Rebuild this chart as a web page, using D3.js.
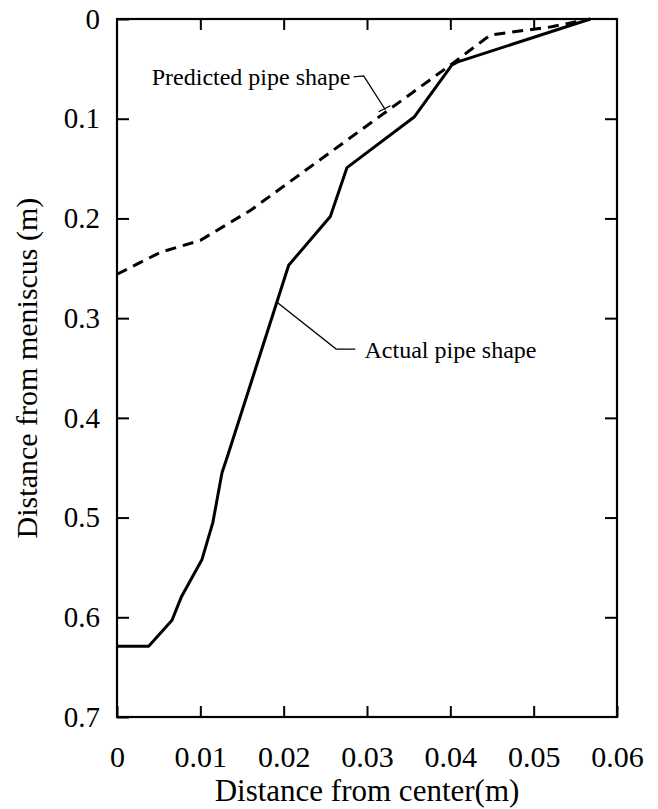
<!DOCTYPE html>
<html lang="en">
  <head>
    <meta charset="UTF-8" />
    <title>pipe shape</title>
    <script src="https://d3js.org/d3.v7.min.js"></script>
    <style>
      body { margin: 0; background: #fff; }
      svg text { font-family: "Liberation Serif", "Times New Roman", serif; fill: #000; }
      .axis path { display: none; }
      .axis line { stroke: #000; stroke-width: 2; }
      .frame { fill: none; stroke: #000; stroke-width: 2.2; }
      .actual { fill: none; stroke: #000; stroke-width: 3; stroke-linejoin: round; }
      .predicted { fill: none; stroke: #000; stroke-width: 3; stroke-dasharray: 11,7; }
      .leader { fill: none; stroke: #000; stroke-width: 1.3; }
    </style>
  </head>
  <body></body>
  <script type="text/javascript">
    var width = 658,
      height = 809;
    var margin = { top: 19, right: 41, bottom: 92, left: 117 };

    // tick values and labels
    var xTicks = [0, 0.01, 0.02, 0.03, 0.04, 0.05, 0.06];
    var xTickLabels = ['0', '0.01', '0.02', '0.03', '0.04', '0.05', '0.06'];
    var yTicks = [0, 0.1, 0.2, 0.3, 0.4, 0.5, 0.6, 0.7];
    var yTickLabels = ['0', '0.1', '0.2', '0.3', '0.4', '0.5', '0.6', '0.7'];

    // actual pipe shape (solid line), x = distance from center, y = distance from meniscus
    var actualX = [0, 0.0038, 0.0066, 0.0077, 0.0102, 0.0115, 0.0126, 0.0132, 0.0206, 0.0256, 0.0276, 0.0357, 0.0402, 0.0409, 0.0568];
    var actualY = [0.629, 0.629, 0.603, 0.58, 0.542, 0.505, 0.455, 0.44, 0.247, 0.198, 0.149, 0.098, 0.046, 0.043, 0];

    // predicted pipe shape (dashed line)
    var predX = [0, 0.0052, 0.01, 0.016, 0.0402, 0.0448, 0.052, 0.0568];
    var predY = [0.256, 0.234, 0.222, 0.192, 0.045, 0.016, 0.008, 0];

    var w = width - margin.left - margin.right,
      h = height - margin.top - margin.bottom;

    var x = d3.scaleLinear().domain([0, 0.06]).range([0, w]);
    var y = d3.scaleLinear().domain([0, 0.7]).range([0, h]);

    var svg = d3
      .select('body')
      .append('svg')
      .attr('width', width)
      .attr('height', height);

    var g = svg.append('g').attr('transform', `translate(${margin.left},${margin.top})`);

    // axes with inward ticks
    var xAxis = d3
      .axisBottom(x)
      .tickValues(xTicks)
      .tickFormat((d, i) => xTickLabels[i])
      .tickSizeInner(-11)
      .tickSizeOuter(0)
      .tickPadding(29);
    var yAxis = d3
      .axisLeft(y)
      .tickValues(yTicks)
      .tickFormat((d, i) => yTickLabels[i])
      .tickSizeInner(-12)
      .tickSizeOuter(0)
      .tickPadding(17);

    g.append('g')
      .attr('class', 'axis')
      .attr('transform', `translate(0,${h})`)
      .call(xAxis)
      .selectAll('text')
      .style('font-size', '30px');
    g.append('g')
      .attr('class', 'axis')
      .call(yAxis)
      .selectAll('text')
      .style('font-size', '29px');

    // mirrored ticks on top and right, no labels
    g.append('g')
      .attr('class', 'axis')
      .call(d3.axisTop(x).tickValues(xTicks.slice(1, -1)).tickSizeInner(-11).tickSizeOuter(0).tickFormat(''));
    g.append('g')
      .attr('class', 'axis')
      .attr('transform', `translate(${w},0)`)
      .call(d3.axisRight(y).tickValues(yTicks.slice(1, -1)).tickSizeInner(-12).tickSizeOuter(0).tickFormat(''));

    g.append('rect').attr('class', 'frame').attr('width', w).attr('height', h);

    var line = d3
      .line()
      .x(d => x(d[0]))
      .y(d => y(d[1]));

    g.append('path').attr('class', 'actual').attr('d', line(d3.zip(actualX, actualY)));
    g.append('path').attr('class', 'predicted').attr('d', line(d3.zip(predX, predY)));

    // annotations
    g.append('path')
      .attr('class', 'leader')
      .attr('d', line([[0.0192, 0.284], [0.0263, 0.331], [0.0286, 0.331]]));
    g.append('text')
      .attr('x', x(0.0297))
      .attr('y', y(0.34))
      .style('font-size', '24px')
      .text('Actual pipe shape');

    g.append('path')
      .attr('class', 'leader')
      .attr('d', line([[0.0284, 0.058], [0.0296, 0.057], [0.0322, 0.091]]));
    g.append('path')
      .attr('class', 'leader')
      .attr('d', line([[0.0314, 0.093], [0.0328, 0.087]]));
    g.append('text')
      .attr('x', x(0.028))
      .attr('y', y(0.066))
      .attr('text-anchor', 'end')
      .style('font-size', '24px')
      .text('Predicted pipe shape');

    // axis titles
    svg
      .append('text')
      .attr('x', margin.left + w / 2)
      .attr('y', 801)
      .attr('text-anchor', 'middle')
      .style('font-size', '31px')
      .text('Distance from center(m)');
    svg
      .append('text')
      .attr('transform', `translate(37,${margin.top + h / 2}) rotate(-90)`)
      .attr('text-anchor', 'middle')
      .style('font-size', '30px')
      .text('Distance from meniscus (m)');
  </script>
</html>
